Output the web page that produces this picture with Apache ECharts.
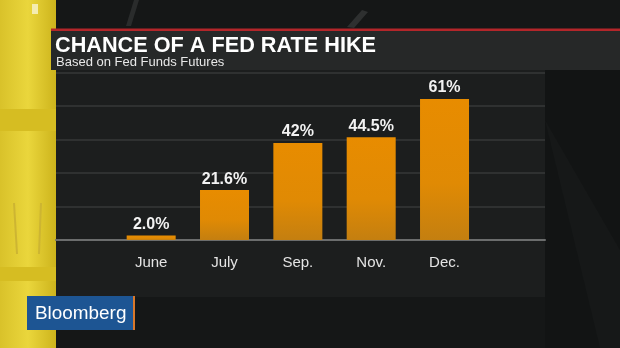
<!DOCTYPE html>
<html>
<head>
<meta charset="utf-8">
<script src="https://cdn.jsdelivr.net/npm/echarts@6/dist/echarts.min.js"></script>
<style>
  html, body { margin: 0; padding: 0; background: #151717; }
  #chart { width: 620px; height: 348px; }
</style>
</head>
<body>
<div id="chart"></div>
<script>
// Probability of a Fed rate hike by meeting month (from fed funds futures)
const months = ['June', 'July', 'Sep.', 'Nov.', 'Dec.'];
const hikeChance = [2.0, 21.6, 42, 44.5, 61];
const hikeLabels = ['2.0%', '21.6%', '42%', '44.5%', '61%'];

// value scale shared by the background rules and the bars
const yMin = 0;
const yMax = 72.5;
const yStep = 14.5;

const chart = echarts.init(document.getElementById('chart'), null, { renderer: 'canvas' });

const gridTop = 72.5;
const gridHeight = 167.5;

const option = {
  backgroundColor: '#151717',
  animation: false,
  graphic: [
    // yellow studio strip on the left
    { type: 'rect', z: -5, shape: { x: 0, y: 0, width: 56, height: 348 },
      style: { fill: new echarts.graphic.LinearGradient(0, 0, 1, 0, [
        { offset: 0, color: '#d9c22a' }, { offset: 0.5, color: '#ead63c' }, { offset: 1, color: '#cdb41c' }]) } },
    { type: 'rect', z: -4, shape: { x: 0, y: 109, width: 56, height: 22 }, style: { fill: '#d6bd22' } },
    { type: 'rect', z: -4, shape: { x: 0, y: 267, width: 56, height: 14 }, style: { fill: '#d6bd22' } },
    { type: 'rect', z: -4, shape: { x: 32, y: 4, width: 6, height: 10 }, style: { fill: '#f4ecb0' } },
    { type: 'polygon', z: -4, shape: { points: [[13, 203], [15, 203], [18, 254], [16, 254]] }, style: { fill: '#cdb532' } },
    { type: 'polygon', z: -4, shape: { points: [[40, 203], [42, 203], [40, 254], [38, 254]] }, style: { fill: '#cdb532' } },
    // faint streaks in the top band
    { type: 'polygon', z: -5, shape: { points: [[134, 0], [139, 0], [131, 26], [126, 26]] }, style: { fill: '#2a2c2c' } },
    { type: 'polygon', z: -5, shape: { points: [[362, 10], [368, 12], [354, 28], [347, 27]] }, style: { fill: '#2e3030' } },
    // darker area on the right
    { type: 'rect', z: -5, shape: { x: 545, y: 70, width: 75, height: 278 }, style: { fill: '#121414' } },
    { type: 'polygon', z: -5, shape: { points: [[545, 120], [620, 250], [620, 348], [600, 348]] }, style: { fill: '#161818' } },
    // chart panel
    { type: 'rect', z: -3, shape: { x: 56, y: 70, width: 489, height: 227 }, style: { fill: '#1c1e1e' } },
    // title panel with red rule
    { type: 'rect', z: -3, shape: { x: 51, y: 31, width: 569, height: 39 }, style: { fill: '#262828' } },
    { type: 'rect', z: -3, shape: { x: 51, y: 28.5, width: 569, height: 2.5 }, style: { fill: '#b3262a' } },
    { type: 'text', z: 5, x: 55, y: 34.5, scaleX: 0.985,
      style: { text: 'CHANCE OF A FED RATE HIKE', fill: '#ffffff',
        font: 'bold 22px "Liberation Sans", Arial, sans-serif' } },
    { type: 'text', z: 5, x: 56, y: 55.5,
      style: { text: 'Based on Fed Funds Futures', fill: '#e8e8e8',
        font: '13px "Liberation Sans", Arial, sans-serif' } },
    // Bloomberg logo
    { type: 'rect', z: 5, shape: { x: 27, y: 296, width: 106, height: 34 }, style: { fill: '#1d5593' } },
    { type: 'rect', z: 5, shape: { x: 133, y: 296, width: 2, height: 34 }, style: { fill: '#d9782a' } },
    { type: 'text', z: 6, x: 35, y: 305, scaleX: 1.05,
      style: { text: 'Bloomberg', fill: '#ffffff',
        font: '18px "Liberation Sans", Arial, sans-serif' } }
  ],
  grid: [
    { left: 56, right: 75, top: gridTop, height: gridHeight },
    { left: 114.5, width: 366.7, top: gridTop, height: gridHeight }
  ],
  xAxis: [
    { gridIndex: 0, type: 'category', data: [''], z: 2,
      axisLine: { show: true, lineStyle: { color: '#6b6d6d', width: 2 } },
      axisTick: { show: false }, axisLabel: { show: false }, splitLine: { show: false } },
    { gridIndex: 1, type: 'category', data: months, z: 2,
      axisLine: { show: false }, axisTick: { show: false },
      axisLabel: { color: '#e4e4e4', fontSize: 15, margin: 15,
        fontFamily: '"Liberation Sans", Arial, sans-serif' } }
  ],
  yAxis: [
    { gridIndex: 0, type: 'value', min: yMin, max: yMax, interval: yStep, z: 1,
      axisLine: { show: false }, axisTick: { show: false }, axisLabel: { show: false },
      splitLine: { show: true, lineStyle: { color: '#363838', width: 1.5 } } },
    { gridIndex: 1, type: 'value', min: yMin, max: yMax, interval: yStep, show: false,
      splitLine: { show: false } }
  ],
  series: [
    {
      type: 'bar', xAxisIndex: 1, yAxisIndex: 1, z: 3,
      data: hikeChance,
      barWidth: 49,
      itemStyle: {
        color: new echarts.graphic.LinearGradient(0, 0, 0, 1, [
          { offset: 0, color: '#e88c00' }, { offset: 0.6, color: '#e08a04' }, { offset: 1, color: '#c47f10' }])
      },
      label: {
        show: true, position: 'top', distance: 3,
        formatter: (p) => hikeLabels[p.dataIndex],
        color: '#f2f2f2', fontSize: 16, fontWeight: 'bold',
        fontFamily: '"Liberation Sans", Arial, sans-serif'
      }
    }
  ]
};

chart.setOption(option);
</script>
</body>
</html>
